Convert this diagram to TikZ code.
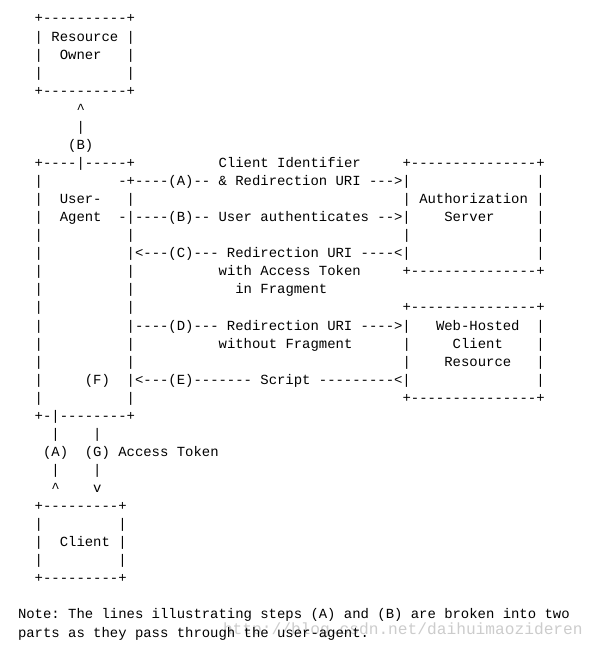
\documentclass[tikz,border=0pt]{standalone}
\usepackage{fontspec}
\setmonofont{Liberation Mono}
\usepackage{tikz}

\begin{document}
\frenchspacing
\begin{tikzpicture}[x=8.36pt,y=-18.06pt]
                    \tikzstyle{every node}=[anchor=base west,inner sep=0pt,outer sep=0pt,
                            font=\ttfamily\fontsize{13.93}{18}\selectfont]
                    \tikzstyle{stamp}=[font=\ttfamily\fontsize{16.2}{18}\selectfont,text=black!20]

  \useasboundingbox (-18pt,23pt) rectangle ++(592pt,-652pt);

  \node[stamp] (wm) at (205pt,-611pt) {http://blog.csdn.net/daihuimaozideren};

  % resource owner
  \node (ro0) at (2,0) {+----------+};
  \node (ro1) at (2,1) {| Resource |};
  \node (ro2a) at (2,2) {|};
  \node (owner) at (5,2) {Owner};
  \node (ro2b) at (13,2) {|};
  \node (ro3a) at (2,3) {|};
  \node (ro3b) at (13,3) {|};
  \node (ro4) at (2,4) {+----------+};

  \node (up) at (7,5) {\textasciicircum};
  \node (upbar) at (7,6) {|};
  \node (stepB1) at (6,7) {(B)};

  % user-agent
  \node (ua0) at (2,8) {+----|-----+};
  \foreach \r in {9,...,21}
    \node (uaL\r) at (2,\r) {|};
  \foreach \r in {10,12,14,15,16,18,19,21}
    \node (uaR\r) at (13,\r) {|};
  \node (user) at (5,10) {User-};
  \node (agent) at (5,11) {Agent};
  \node (stepF) at (8,20) {(F)};
  \node (ua1) at (2,22) {+-|--------+};

  % authorization server
  \node (as0) at (46,8) {+---------------+};
  \node (as1) at (46,10) {| Authorization |};
  \node (server) at (51,11) {Server};
  \node (asL12) at (46,12) {|};
  \foreach \r in {9,11,12,13}
    \node (asR\r) at (62,\r) {|};
  \node (as2) at (46,14) {+---------------+};

  % web-hosted client resource
  \node (wc0) at (46,16) {+---------------+};
  \node (web) at (50,17) {Web-Hosted};
  \node (wclient) at (52,18) {Client};
  \node (res) at (51,19) {Resource};
  \node (wcL18) at (46,18) {|};
  \node (wcL19) at (46,19) {|};
  \foreach \r in {17,...,20}
    \node (wcR\r) at (62,\r) {|};
  \node (wc1) at (46,21) {+---------------+};

  % steps
  \node (cid) at (24,8) {Client Identifier};
  \node (stepA1) at (12,9) {-+----(A)-- \& Redirection URI --->|};
  \node (stepB2) at (12,11) {-|----(B)-- User authenticates -->|};
  \node (stepC) at (13,13) {|<---(C)--- Redirection URI ----<|};
  \node (tok) at (24,14) {with Access Token};
  \node (frag) at (26,15) {in Fragment};
  \node (stepD) at (13,17) {|----(D)--- Redirection URI ---->|};
  \node (nofrag) at (24,18) {without Fragment};
  \node (stepE) at (13,20) {|<---(E)------- Script ---------<|};

  \node (barA1) at (4,23) {|};
  \node (barG1) at (9,23) {|};
  \node (stepA2) at (3,24) {(A)};
  \node (stepG) at (8,24) {(G) Access Token};
  \node (barA2) at (4,25) {|};
  \node (barG2) at (9,25) {|};
  \node (tipA) at (4,26) {\textasciicircum};
  \node (tipG) at (9,26) {v};

  % client
  \node (cl0) at (2,27) {+---------+};
  \foreach \r in {28,29,30} {
    \node (clL\r) at (2,\r) {|};
    \node (clR\r) at (12,\r) {|};
  }
  \node (client) at (5,29) {Client};
  \node (cl1) at (2,31) {+---------+};

  \node (note1) at (0,33) {Note: The lines illustrating steps (A) and (B) are broken into two};
  \node (note2) at (0,34) {parts as they pass through the user-agent.};

\end{tikzpicture}
\end{document}
